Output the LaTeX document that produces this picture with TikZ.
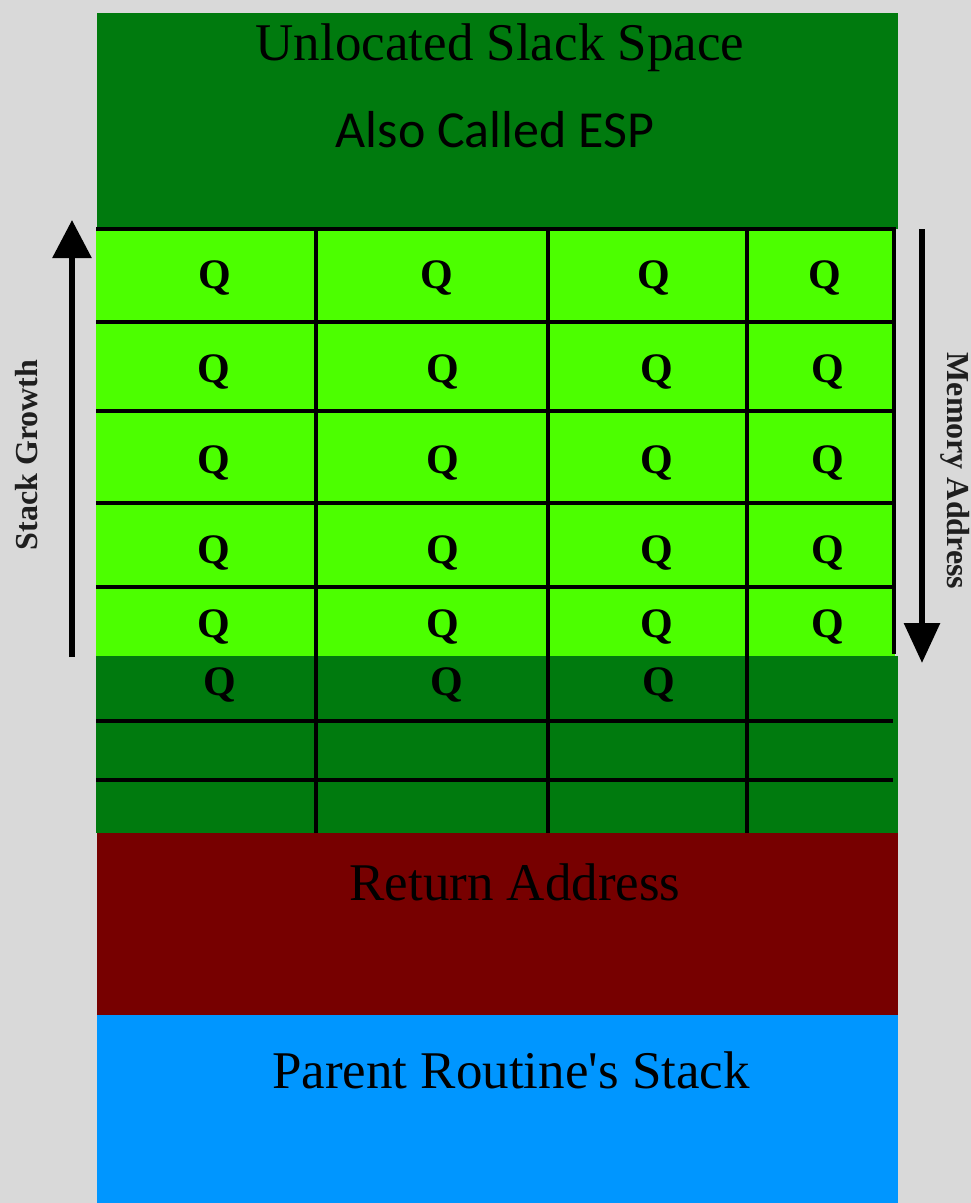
\documentclass[tikz,border=0pt]{standalone}
\usepackage{fontspec}
\setmainfont{Liberation Serif}
\newfontfamily\plainserif{Liberation Serif}
\newfontfamily\labelsans{Carlito}
\usetikzlibrary{arrows.meta}

\definecolor{pagegray}{RGB}{217,217,217}
\definecolor{slackgreen}{RGB}{0,122,14}
\definecolor{framegreen}{RGB}{76,255,0}
\definecolor{retred}{RGB}{119,0,0}
\definecolor{parentblue}{RGB}{0,150,255}

\begin{document}
\begin{tikzpicture}[x=1pt,y=-1pt,
  gridline/.style={line width=4pt, black},
  qmark/.style={anchor=base, inner sep=0pt, font=\fontsize{42}{42}\selectfont\bfseries},
  blocktext/.style={anchor=base, inner sep=0pt, font=\plainserif\fontsize{53}{60}\selectfont},
  sidetext/.style={inner sep=0pt, font=\fontsize{32}{32}\selectfont\bfseries, text=black!88},
  growarrow/.style={line width=6pt, -{Triangle[width=38pt,length=38pt]}}]

% page and stack blocks
\fill[pagegray] (0,0) rectangle (971,1203);
\useasboundingbox (0,0) rectangle (971,1203);
\fill[slackgreen] (97,13) rectangle (898,229);
\fill[framegreen] (96,229) rectangle (895,656);
\fill[slackgreen] (96,656) rectangle (898,833);
\fill[retred] (97,833) rectangle (898,1015);
\fill[parentblue] (97,1015) rectangle (898,1203);

% grid of the local frame
\foreach \yy in {229,322,411,503,587} \draw[gridline] (96,\yy) -- (896,\yy);
\foreach \yy in {721,780} \draw[gridline] (96,\yy) -- (893,\yy);
\draw[gridline] (894,229) -- (894,654);
\foreach \xx in {316,548,747} \draw[gridline] (\xx,229) -- (\xx,833);

% cell markers
\foreach \xx/\nm in {215/a,437/b,654/c,825/d}
  \node[qmark] (q1\nm) at (\xx,288) {Q};
\foreach \yy/\rr in {382/2,473/3,563/4,637/5}
  \foreach \xx/\nm in {214/a,443/b,657/c,828/d}
    \node[qmark] (q\rr\nm) at (\xx,\yy) {Q};
\foreach \xx/\nm in {220/a,447/b,659/c}
  \node[qmark] (q6\nm) at (\xx,695) {Q};

% block labels
\node[blocktext] (slack) at (500,60) {Unlocated Slack Space};
\node[anchor=base, inner sep=0pt, font=\labelsans\fontsize{52}{60}\selectfont] (esp) at (495,147) {Also Called ESP};
\node[blocktext] (ret) at (515,900) {Return Address};
\node[blocktext] (parent) at (511,1088) {Parent Routine's Stack};

% direction arrows
\coordinate (growlow) at (72,657);
\coordinate (growtop) at (72,220);
\draw[growarrow] (growlow) -- (growtop);
\node[sidetext, rotate=90] (growlbl) at (27,455) {Stack Growth};

\coordinate (memtop) at (922,229);
\coordinate (memlow) at (922,663);
\draw[growarrow, -{Triangle[width=35pt,length=40pt]}] (memtop) -- (memlow);
\node[sidetext, rotate=-90] (memlbl) at (955,471) {Memory Address};
\end{tikzpicture}
\end{document}
